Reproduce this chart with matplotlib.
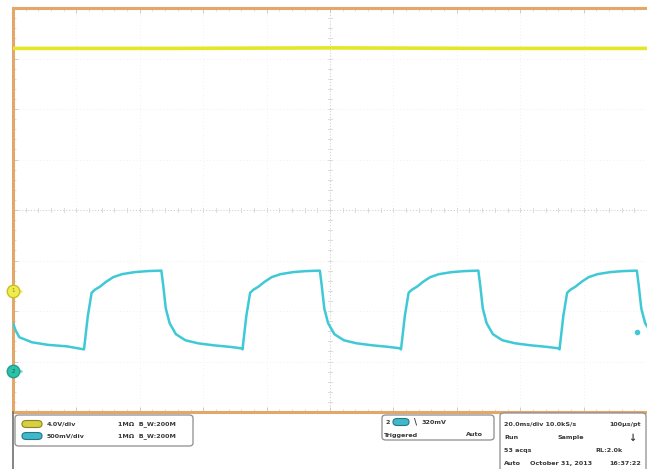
import matplotlib.pyplot as plt
import matplotlib.patches as mpatches
from matplotlib.ticker import MultipleLocator

# Trace data (x in divisions, y in divisions from screen centre)
ch1_t = [0.0, 2.5, 5.0, 7.5, 10.0]
ch1_v = [3.2, 3.2, 3.21, 3.2, 3.2]

ch2_t = [0.00, 0.04, 0.10, 0.30, 0.55, 0.85,
         1.12, 1.18, 1.24, 1.29, 1.37, 1.47, 1.58, 1.72, 1.92, 2.12, 2.34,
         2.37, 2.41, 2.47, 2.57, 2.72, 2.92, 3.17, 3.42, 3.61,
         3.62, 3.68, 3.74, 3.79, 3.87, 3.97, 4.08, 4.22, 4.42, 4.62, 4.84,
         4.87, 4.91, 4.97, 5.07, 5.22, 5.42, 5.67, 5.92, 6.11,
         6.12, 6.18, 6.24, 6.29, 6.37, 6.47, 6.58, 6.72, 6.92, 7.12, 7.34,
         7.37, 7.41, 7.47, 7.57, 7.72, 7.92, 8.17, 8.42, 8.61,
         8.62, 8.68, 8.74, 8.79, 8.87, 8.97, 9.08, 9.22, 9.42, 9.62, 9.84,
         9.87, 9.91, 9.97, 10.0]
ch2_v = [-2.24, -2.38, -2.52, -2.62, -2.67, -2.70,
         -2.76, -2.10, -1.64, -1.58, -1.52, -1.42, -1.33, -1.27, -1.23, -1.21, -1.20,
         -1.50, -1.95, -2.24, -2.46, -2.58, -2.64, -2.68, -2.71, -2.74,
         -2.76, -2.10, -1.64, -1.58, -1.52, -1.42, -1.33, -1.27, -1.23, -1.21, -1.20,
         -1.50, -1.95, -2.24, -2.46, -2.58, -2.64, -2.68, -2.71, -2.74,
         -2.76, -2.10, -1.64, -1.58, -1.52, -1.42, -1.33, -1.27, -1.23, -1.21, -1.20,
         -1.50, -1.95, -2.24, -2.46, -2.58, -2.64, -2.68, -2.71, -2.74,
         -2.76, -2.10, -1.64, -1.58, -1.52, -1.42, -1.33, -1.27, -1.23, -1.21, -1.20,
         -1.50, -1.95, -2.24, -2.30]

ch1_ground = -1.6
ch2_ground = -3.19
ch2_dot = (9.85, -2.42)

ch_labels = ["4.0V/div", "500mV/div"]
ch_coupling = ["1MΩ  B_W:200M", "1MΩ  B_W:200M"]
status_rows = [("20.0ms/div 10.0kS/s", "", "100μs/pt"),
               ("Run", "Sample", ""),
               ("53 acqs", "", "RL:2.0k"),
               ("Auto", "October 31, 2013", "16:37:22")]

yellow = "#e6e628"
cyan = "#3fc9d6"
orange = "#e3a867"

fig = plt.figure(figsize=(6.47, 4.69), dpi=100)
ax = fig.add_axes([13 / 647, 57 / 469, 634 / 647, 404 / 469])
ax.set_xlim(0, 10)
ax.set_ylim(-4, 4)

# graticule
for gx in range(1, 10):
    ax.axvline(gx, color="#ececec", lw=0.6, ls=(0, (1, 3)), zorder=0)
for gy in range(-3, 4):
    ax.axhline(gy, color="#ececec", lw=0.6, ls=(0, (1, 3)), zorder=0)
ax.axvline(5, color="#cfcfcf", lw=0.7, ls=(0, (1, 2)), zorder=0)
ax.axhline(0, color="#cfcfcf", lw=0.7, ls=(0, (1, 2)), zorder=0)
for k in range(1, 50):
    ax.plot([k * 0.2, k * 0.2], [-0.04, 0.04], color="#d6d6d6", lw=0.6, zorder=0)
for k in range(-19, 20):
    ax.plot([4.97, 5.03], [k * 0.2, k * 0.2], color="#d6d6d6", lw=0.6, zorder=0)

for side in ["left", "top", "bottom"]:
    ax.spines[side].set_color(orange)
    ax.spines[side].set_linewidth(2.2)
ax.spines["right"].set_visible(False)
ax.xaxis.set_major_locator(MultipleLocator(1))
ax.xaxis.set_minor_locator(MultipleLocator(0.2))
ax.yaxis.set_major_locator(MultipleLocator(1))
ax.yaxis.set_minor_locator(MultipleLocator(0.2))
ax.tick_params(which="both", direction="in", colors="#cccccc", top=True,
               labelbottom=False, labelleft=False)
ax.tick_params(which="major", length=3.5, width=0.7)
ax.tick_params(which="minor", length=2, width=0.5)

# traces
ax.plot(ch1_t, ch1_v, color=yellow, lw=2.6, solid_capstyle="butt", zorder=3)
ax.plot(ch2_t, ch2_v, color=cyan, lw=1.8, zorder=3)
ax.plot([ch2_dot[0]], [ch2_dot[1]], "o", color=cyan, ms=3, zorder=3)

# ground markers
ax.plot([0.1], [ch1_ground], ">", color="#f3f07a", ms=5, clip_on=False, zorder=4)
ax.plot([0], [ch1_ground], "o", color="#f0ec50", mec="#c8c020", ms=9, clip_on=False, zorder=5)
ax.text(0, ch1_ground, "1", fontsize=4, ha="center", va="center", color="#888800", zorder=6)
ax.plot([0.1], [ch2_ground], ">", color="#7fd9c8", ms=5, clip_on=False, zorder=4)
ax.plot([0], [ch2_ground], "o", color="#2fc0a8", mec="#20a090", ms=9, clip_on=False, zorder=5)
ax.text(0, ch2_ground, "2", fontsize=4, ha="center", va="center", color="#106050", zorder=6)

# bottom info panel
def fx(px):
    return px / 647

def fy(py):
    return 1 - py / 469

fig.add_artist(plt.Line2D([fx(13), fx(13)], [0, fy(412)], color="#707070", lw=1.2))

def box(x0, y0, x1, y1):
    p = mpatches.FancyBboxPatch((fx(x0), fy(y1)), fx(x1) - fx(x0), fy(y0) - fy(y1),
                                boxstyle="round,pad=0,rounding_size=0.006",
                                transform=fig.transFigure, facecolor="white",
                                edgecolor="#8c8c8c", lw=0.9)
    fig.add_artist(p)

def pill(cx, cy, w, h, fc, ec):
    p = mpatches.FancyBboxPatch((fx(cx - w / 2), fy(cy + h / 2)), fx(w), h / 469,
                                boxstyle="round,pad=0,rounding_size=0.007",
                                transform=fig.transFigure, facecolor=fc,
                                edgecolor=ec, lw=0.8)
    fig.add_artist(p)

txt = dict(fontsize=4.6, fontweight="bold", color="#383838", va="center")

box(15, 415, 193, 446)
pill(32, 424, 20, 7, "#d8d040", "#8c8420")
pill(32, 436, 20, 7, "#40b8c8", "#207888")
for i, (lab, cpl) in enumerate(zip(ch_labels, ch_coupling)):
    fig.text(fx(47), fy(424 + 12 * i), lab, **txt)
    fig.text(fx(118), fy(424 + 12 * i), cpl, **txt)

box(382, 415, 494, 440)
fig.text(fx(385), fy(422), "2", **txt)
pill(401, 422, 16, 7, "#40b8c8", "#207888")
fig.text(fx(414), fy(422), "\\", fontsize=6, fontweight="bold", color="#383838", va="center")
fig.text(fx(422), fy(422), "320mV", **txt)
fig.text(fx(384), fy(435), "Triggered", **txt)
fig.text(fx(483), fy(435), "Auto", ha="right", **txt)

box(500, 413, 646, 472)
for i, (left, mid, right) in enumerate(status_rows):
    y = fy(424 + 13.3 * i)
    fig.text(fx(504), y, left, **txt)
    if mid:
        fig.text(fx(557 if i == 1 else 530), y, mid, **txt)
    if right:
        fig.text(fx(641 if i != 2 else 623), y, right, ha="right", **txt)
fig.text(fx(632), fy(438), "↓", fontsize=7, fontweight="bold", color="#383838",
         ha="center", va="center")

fig.savefig("out.png", dpi=100)
